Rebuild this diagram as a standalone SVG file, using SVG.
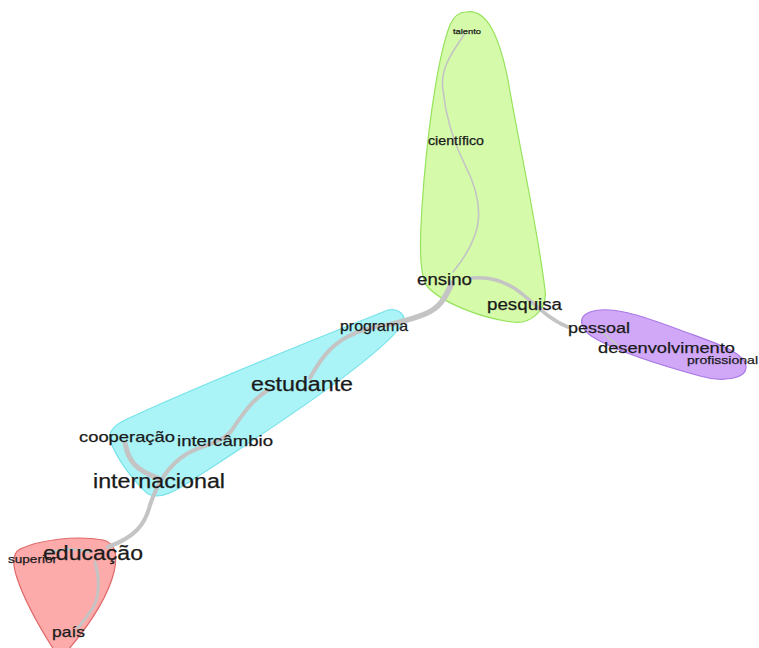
<svg xmlns="http://www.w3.org/2000/svg" width="759" height="648" viewBox="0 0 759 648">
<style>
.t{font-family:"Liberation Sans",Arial,sans-serif;fill:#1a1a1a;stroke:#1a1a1a;stroke-width:0.25;}
.e{fill:none;stroke:#c4c4c4;stroke-linecap:round;stroke-linejoin:round;}
</style>
<rect width="759" height="648" fill="#ffffff"/>
<g id="clusters">
<path id="cluster-green" d="M466,12 C488,8 500,40 508,80 C520,150 538,230 545,290 C548,310 530,325 512,322 C480,318 440,302 426,285 C418,270 420,230 424,180 C430,110 440,50 450,25 C454,16 460,12 466,12 Z" fill="#d4faaa" stroke="#96e35c" stroke-width="1.2"/>
<path id="cluster-cyan" d="M388,310 C398,308 408,315 402,325 C380,355 300,410 200,475 C175,492 160,500 148,494 C130,478 115,455 110,440 C108,432 115,425 125,420 C200,385 300,345 388,310 Z" fill="#aaf3f6" stroke="#78e3ea" stroke-width="1.2"/>
<path id="cluster-purple" d="M590,312 C610,305 640,315 680,330 C715,343 745,352 746,366 C747,380 720,382 700,376 C660,365 620,352 598,340 C582,332 575,318 590,312 Z" fill="#d1a8f8" stroke="#a978e6" stroke-width="1.2"/>
<path id="cluster-red" d="M20,549 C40,540 75,535 103,540 C115,543 118,555 114,572 C107,600 85,630 68,650 L54,650 C40,628 25,602 17,578 C12,563 13,553 20,549 Z" fill="#fdaaaa" stroke="#e06a6a" stroke-width="1.2"/>
</g>
<g id="connectors">
<path class="e" stroke-width="1.6" d="M464,35 C450,55 440,70 443,90 C446,120 455,145 465,165 C478,190 482,215 475,235 C468,255 458,265 453,272"/>
<path class="e" stroke-width="3.5" d="M472,278 C492,277 502,281 514,288 C530,298 545,318 568,327"/>
<path class="e" stroke-width="5.5" d="M452,283 C445,298 440,308 425,314 C410,320 400,322 392,324"/>
<path class="e" stroke-width="4" d="M392,324 C375,326 360,330 347,337 C330,346 320,360 310,378"/>
<path class="e" stroke-width="4" d="M268,390 C255,398 245,410 232,430 C222,444 200,445 185,455 C165,468 155,490 150,505 C145,525 135,537 108,547"/>
<path class="e" stroke-width="5" d="M125,443 C128,460 135,470 158,478"/>
<path class="e" stroke-width="3" d="M95,562 C100,580 100,600 90,612 C85,620 80,625 78,628"/>
<path class="e" stroke-width="2.5" d="M48,553 C60,549 75,548 90,552"/>
<path class="e" stroke-width="2" d="M602,332 L617,345"/>
</g>
<g id="node-talento"><text class="t" x="453" y="34" font-size="8" textLength="28" lengthAdjust="spacingAndGlyphs">talento</text></g>
<g id="node-cientifico"><text class="t" x="428" y="145" font-size="12" textLength="56" lengthAdjust="spacingAndGlyphs">científico</text></g>
<g id="node-ensino"><text class="t" x="417" y="285" font-size="16" textLength="55" lengthAdjust="spacingAndGlyphs">ensino</text></g>
<g id="node-pesquisa"><text class="t" x="487" y="310" font-size="16" textLength="75" lengthAdjust="spacingAndGlyphs">pesquisa</text></g>
<g id="node-programa"><text class="t" x="340" y="331" font-size="14.5" textLength="68" lengthAdjust="spacingAndGlyphs">programa</text></g>
<g id="node-pessoal"><text class="t" x="568" y="333" font-size="15.5" textLength="62" lengthAdjust="spacingAndGlyphs">pessoal</text></g>
<g id="node-desenvolvimento"><text class="t" x="598" y="353" font-size="15.5" textLength="137" lengthAdjust="spacingAndGlyphs">desenvolvimento</text></g>
<g id="node-profissional"><text class="t" x="687" y="364" font-size="11.5" textLength="71" lengthAdjust="spacingAndGlyphs">profissional</text></g>
<g id="node-estudante"><text class="t" x="251" y="391" font-size="19.5" textLength="102" lengthAdjust="spacingAndGlyphs">estudante</text></g>
<g id="node-cooperacao"><text class="t" x="79" y="442" font-size="15" textLength="96" lengthAdjust="spacingAndGlyphs">cooperação</text></g>
<g id="node-intercambio"><text class="t" x="177" y="446" font-size="15" textLength="96" lengthAdjust="spacingAndGlyphs">intercâmbio</text></g>
<g id="node-internacional"><text class="t" x="93" y="488" font-size="19.5" textLength="132" lengthAdjust="spacingAndGlyphs">internacional</text></g>
<g id="node-superior"><text class="t" x="8" y="563" font-size="11" textLength="49" lengthAdjust="spacingAndGlyphs">superior</text></g>
<g id="node-educacao"><text class="t" x="43" y="560" font-size="20" textLength="100" lengthAdjust="spacingAndGlyphs">educação</text></g>
<g id="node-pais"><text class="t" x="52" y="637" font-size="15" textLength="33" lengthAdjust="spacingAndGlyphs">país</text></g>
</svg>
